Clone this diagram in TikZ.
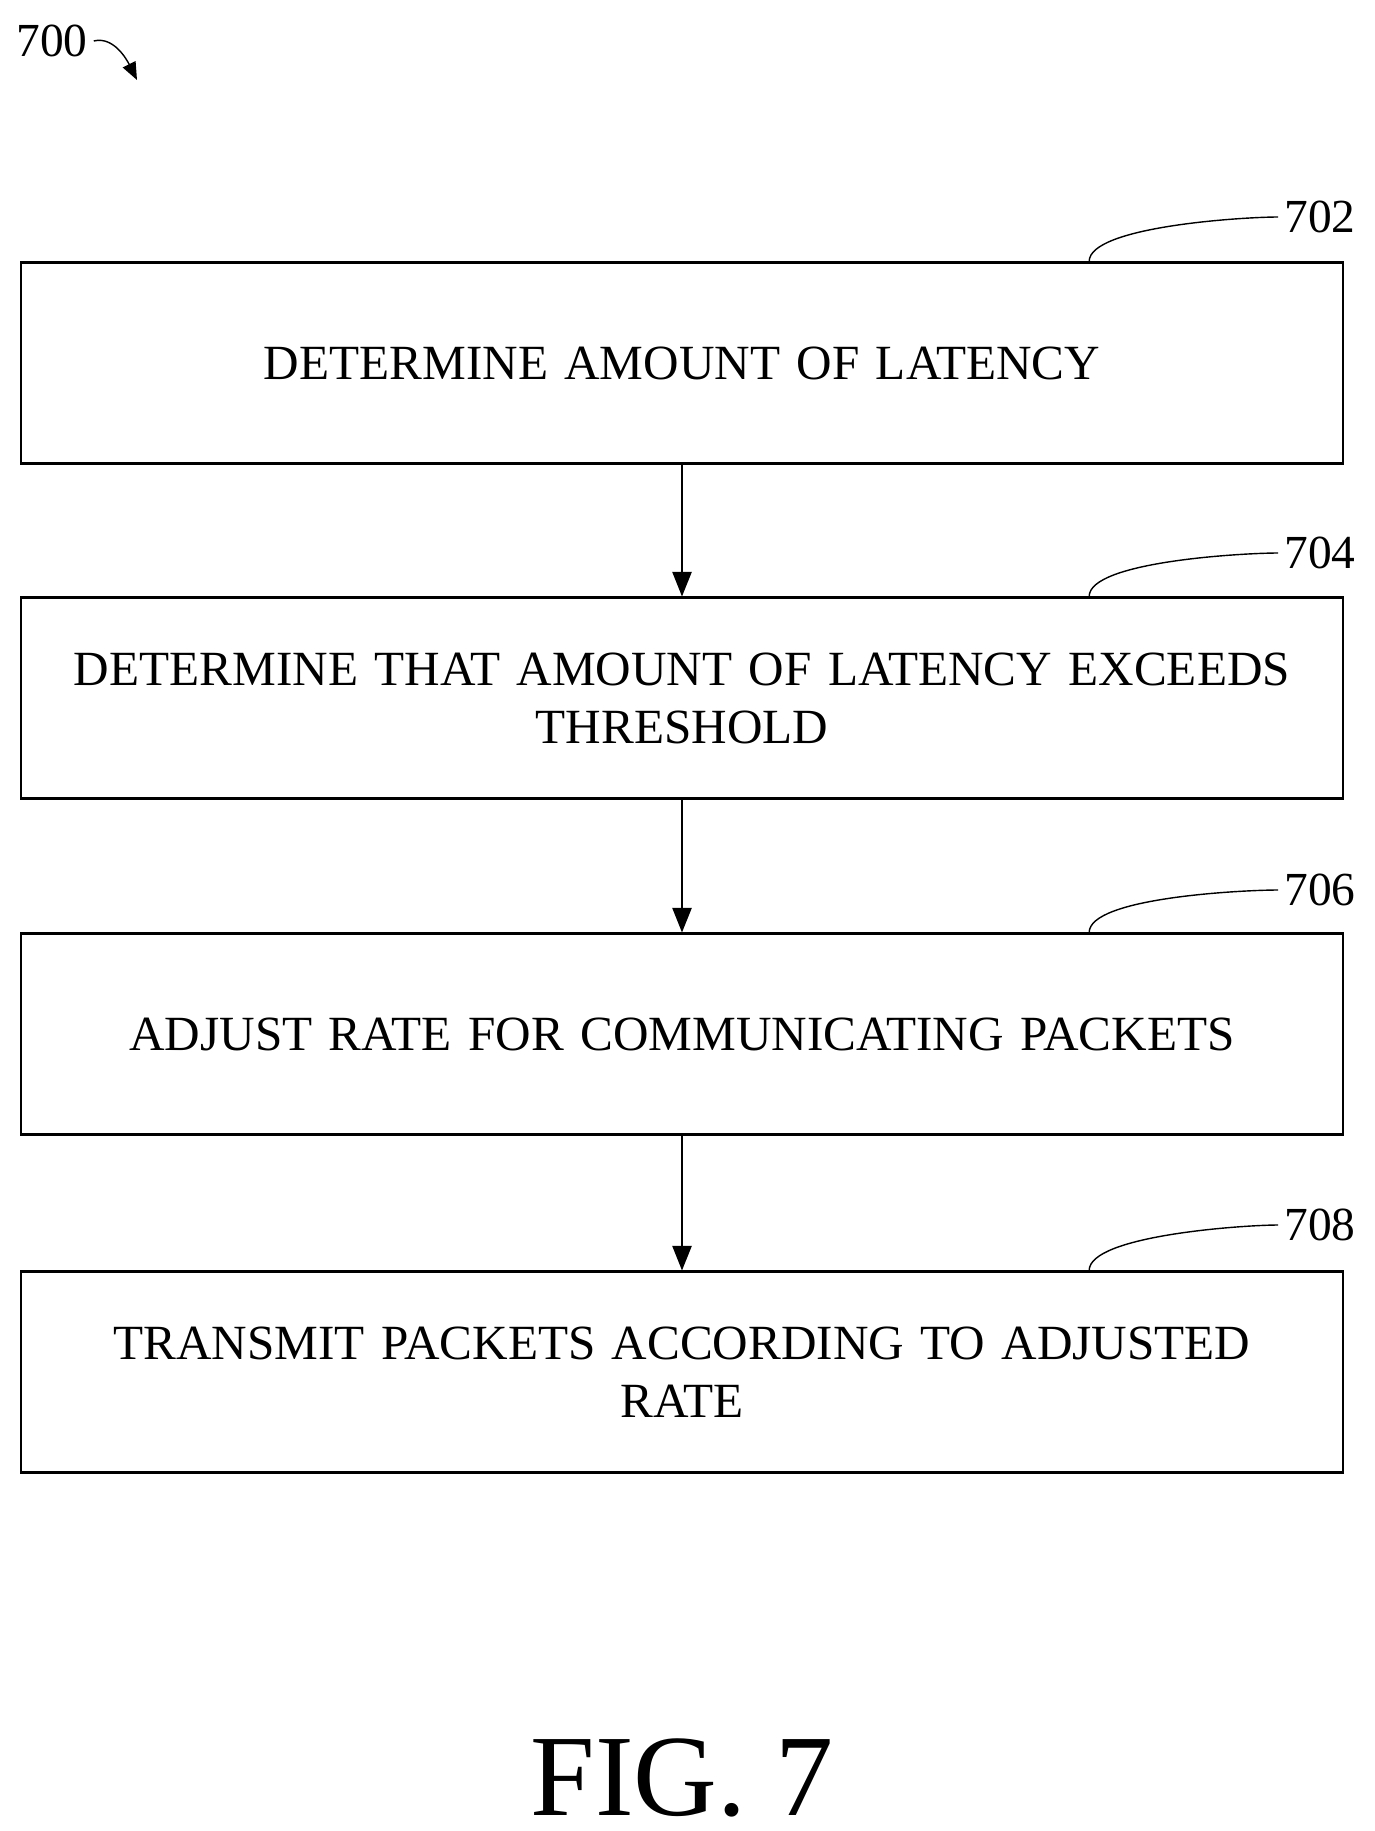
\documentclass[tikz,border=0pt]{standalone}
\usepackage{fontspec}
\setmainfont{Liberation Serif}
\usetikzlibrary{positioning,arrows.meta}

\begin{document}
\begin{tikzpicture}[
    x=0.02cm, y=-0.02cm,
    stepbox/.style={draw, line width=1.2pt, minimum width=26.44cm, minimum height=4.02cm,
                 align=center, text width=26cm, font=\fontsize{28}{33}\selectfont},
    flow/.style={-{Triangle[length=14pt,width=11pt]}, line width=0.8pt},
    ref/.style={font=\fontsize{27}{30}\selectfont},
    lead/.style={line width=0.8pt}
]
\useasboundingbox (0,0) rectangle (1374,1831);

% Steps
\node[stepbox] (s702) at (682,363) {DETERMINE AMOUNT OF LATENCY};
\node[stepbox] (s704) at (682,698) {DETERMINE THAT AMOUNT OF LATENCY EXCEEDS\\THRESHOLD};
\node[stepbox] (s706) at (682,1034) {ADJUST RATE FOR COMMUNICATING PACKETS};
\node[stepbox] (s708) at (682,1372) {TRANSMIT PACKETS ACCORDING TO ADJUSTED\\RATE};

% Flow
\draw[flow] (s702) -- (s704);
\draw[flow] (s704) -- (s706);
\draw[flow] (s706) -- (s708);

% Reference numerals
\foreach \n/\y in {702/217, 704/553, 706/890, 708/1225} {
  \node[ref] (r\n) at (1320,\y) {\n};
  \draw[lead] ([xshift=-145]s\n.north east) .. controls +(0,-35) and +(-35,0) .. (r\n.west);
}

% Figure number
\node[ref] (r700) at (52,41) {700};
\draw[lead, -{Triangle[length=10pt,width=8pt]}] (r700.east) .. controls +(20,-5) and +(-10,-20) .. (137,80);

\node[font=\fontsize{66}{76}\selectfont] (fig) at (682,1778) {FIG. 7};
\end{tikzpicture}
\end{document}
